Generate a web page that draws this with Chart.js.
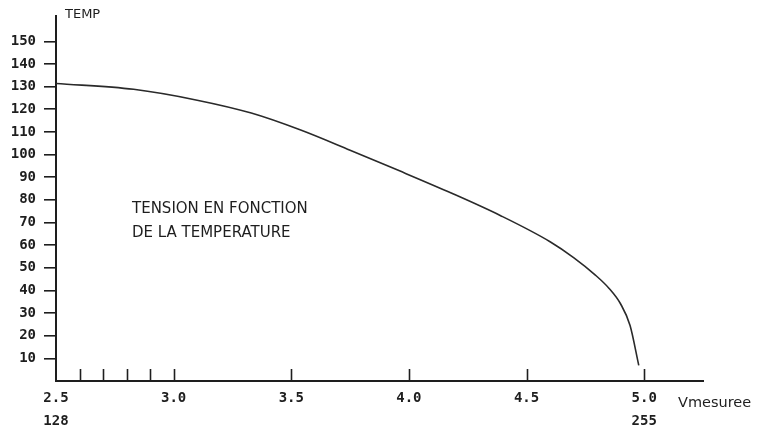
<!DOCTYPE html>
<html>
<head>
<meta charset="utf-8">
<script src="https://cdn.jsdelivr.net/npm/chart.js@4"></script>
<style>
  html, body { margin: 0; padding: 0; background: #ffffff; }
  #wrap { width: 758px; height: 432px; }
</style>
</head>
<body>
<div id="wrap"><canvas id="c" width="758" height="432"></canvas></div>
<script>
// Data
const vMesuree = [2.5, 2.83, 3.1, 3.33, 3.54, 3.75, 3.96, 4.18, 4.39, 4.60, 4.70, 4.79, 4.85, 4.90, 4.94, 4.977];
const temp     = [131.4, 128.8, 124.0, 118.3, 110.8, 101.9, 92.8, 83.0, 73.0, 61.5, 54.5, 47.0, 41.0, 34.0, 24.5, 6.9];
const xTickValues = [2.5, 2.6, 2.7, 2.8, 2.9, 3.0, 3.5, 4.0, 4.5, 5.0];
const xLabeled = { 2.5: ['2.5', '128'], 3.0: ['3.0'], 3.5: ['3.5'], 4.0: ['4.0'], 4.5: ['4.5'], 5.0: ['5.0', '255'] };
const yTickValues = [10, 20, 30, 40, 50, 60, 70, 80, 90, 100, 110, 120, 130, 140, 150];
const yTitle = 'TEMP';
const xTitle = 'Vmesuree';
const noteLines = ['TENSION EN FONCTION', 'DE LA TEMPERATURE'];

const points = vMesuree.map((v, i) => ({ x: v, y: temp[i] }));
const INK = '#1e1e1e';

const decor = {
  id: 'decor',
  afterDraw(chart) {
    const ctx = chart.ctx;
    const xs = chart.scales.x, ys = chart.scales.y;
    const bottom = ys.getPixelForValue(0);
    ctx.save();
    ctx.strokeStyle = INK;
    ctx.lineWidth = 1.6;
    xTickValues.forEach(v => {
      if (v === 2.5) return;
      const px = Math.round(xs.getPixelForValue(v)) + 0.5;
      ctx.beginPath();
      ctx.moveTo(px, bottom);
      ctx.lineTo(px, bottom - 12);
      ctx.stroke();
    });
    ctx.fillStyle = INK;
    ctx.textBaseline = 'middle';
    ctx.textAlign = 'left';
    ctx.font = '13px "DejaVu Sans"';
    ctx.fillText(yTitle, 65, 15);
    ctx.font = '14.5px "DejaVu Sans"';
    ctx.fillText(xTitle, 678, 403);
    ctx.font = '15px "DejaVu Sans"';
    ctx.fillText(noteLines[0], 132, 209);
    ctx.fillText(noteLines[1], 132, 233);
    ctx.restore();
  }
};

new Chart(document.getElementById('c'), {
  type: 'line',
  data: {
    datasets: [{
      data: points,
      borderColor: '#2a2a2a',
      borderWidth: 1.6,
      pointRadius: 0,
      fill: false,
      cubicInterpolationMode: 'monotone'
    }]
  },
  options: {
    responsive: false,
    animation: false,
    events: [],
    layout: { padding: { top: 8, right: 55, left: 0, bottom: 0 } },
    plugins: { legend: { display: false }, tooltip: { enabled: false } },
    scales: {
      x: {
        type: 'linear',
        min: 2.5,
        max: 5.25,
        afterBuildTicks(scale) { scale.ticks = xTickValues.map(v => ({ value: v })); },
        afterFit(scale) { scale.height = 51; },
        grid: { display: false, drawTicks: false },
        border: { display: true, color: INK, width: 2 },
        ticks: {
          autoSkip: false,
          maxRotation: 0,
          padding: 5,
          color: INK,
          font: { family: '"DejaVu Sans Mono"', size: 14, weight: 'bold', lineHeight: 1.7 },
          callback(v) { return xLabeled[v] || ''; }
        }
      },
      y: {
        type: 'linear',
        min: 0,
        max: 161,
        afterBuildTicks(scale) { scale.ticks = yTickValues.map(v => ({ value: v })); },
        afterFit(scale) { scale.width = 56; },
        grid: { drawOnChartArea: false, drawTicks: true, tickLength: 12, color: INK, lineWidth: 1.6 },
        border: { display: true, color: INK, width: 2 },
        ticks: {
          autoSkip: false,
          padding: 8,
          color: INK,
          font: { family: '"DejaVu Sans Mono"', size: 14, weight: 'bold' },
          callback(v) { return String(v); }
        }
      }
    }
  },
  plugins: [decor]
});
</script>
</body>
</html>
